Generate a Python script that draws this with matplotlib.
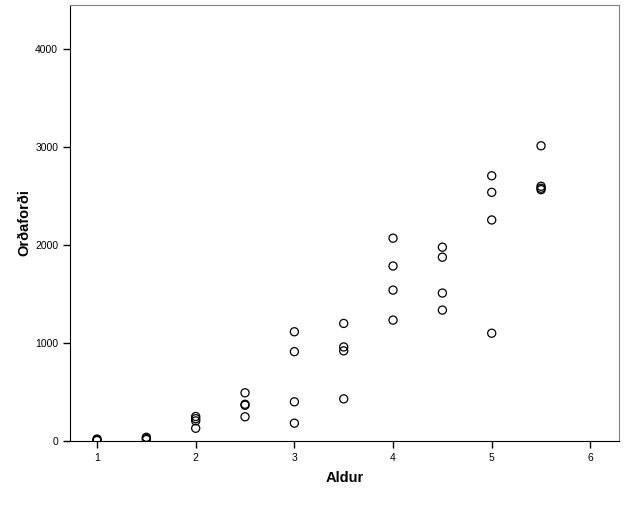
import matplotlib.pyplot as plt

plt.rcParams['font.family'] = ['Liberation Sans', 'DejaVu Sans']

# aldur (ár) og orðaforði
aldur = [1, 1, 1, 1.5, 1.5, 1.5,
         2, 2, 2, 2, 2.5, 2.5, 2.5, 2.5,
         3, 3, 3, 3, 3.5, 3.5, 3.5, 3.5,
         4, 4, 4, 4, 4.5, 4.5, 4.5, 4.5,
         5, 5, 5, 5, 5.5, 5.5, 5.5, 5.5]
ordafordi = [5, 12, 20, 15, 25, 38,
             250, 228, 205, 130, 492, 375, 365, 247,
             1115, 912, 400, 182, 1200, 960, 920, 430,
             2070, 1786, 1540, 1234, 1978, 1876, 1510, 1336,
             2707, 2538, 2256, 1100, 3013, 2600, 2580, 2565]

x_ticks = [1, 2, 3, 4, 5, 6]
y_ticks = [0, 1000, 2000, 3000, 4000]

fig = plt.figure(figsize=(6.25, 5.26), dpi=100)
ax = fig.add_axes([70 / 625, 1 - 441 / 526, 549 / 625, 436 / 526])

ax.scatter(aldur, ordafordi, s=34, facecolors='none', edgecolors='black',
           linewidths=0.9, zorder=3)

ax.set_xlim(0.726, 6.29)
ax.set_ylim(0, 4450)
ax.set_xticks(x_ticks)
ax.set_yticks(y_ticks)
ax.tick_params(direction='out', length=5, width=1, labelsize=7.5, colors='black')

for s in ['top', 'right']:
    ax.spines[s].set_color('#808080')
for s in ['left', 'bottom']:
    ax.spines[s].set_color('black')

ax.set_xlabel('Aldur', fontsize=10.5, fontweight='bold', labelpad=6)
ax.set_ylabel('Orðaforði', fontsize=10.5, fontweight='bold', labelpad=3)

fig.savefig('out.png', dpi=100)
